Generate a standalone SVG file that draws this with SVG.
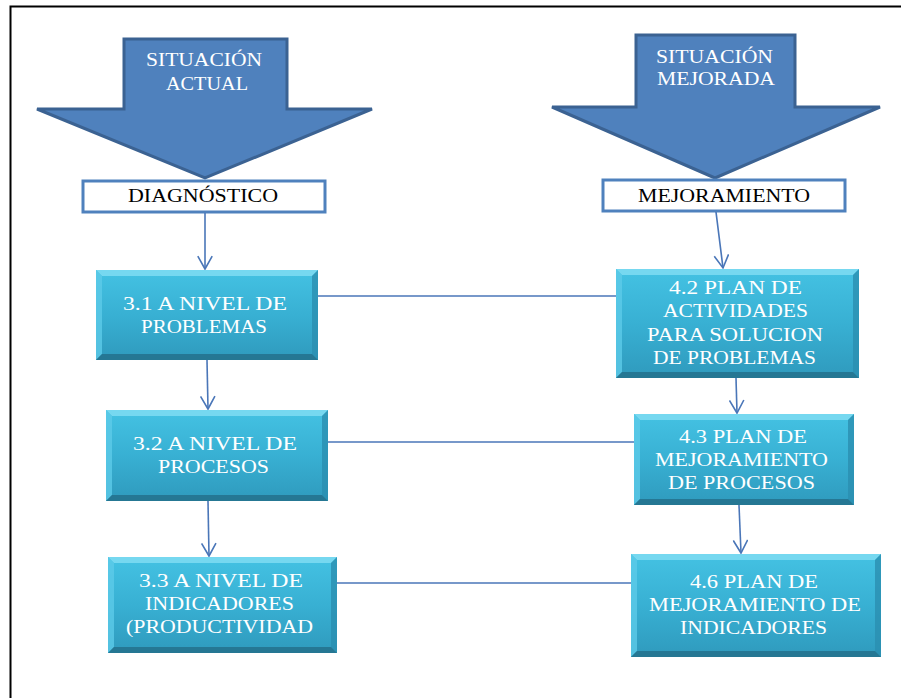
<svg xmlns="http://www.w3.org/2000/svg" width="901" height="698" viewBox="0 0 901 698">
  <defs>
    <linearGradient id="boxFill" x1="0" y1="0" x2="0" y2="1">
      <stop offset="0" stop-color="#44c2e3"/>
      <stop offset="0.5" stop-color="#38b0d3"/>
      <stop offset="1" stop-color="#2f9abd"/>
    </linearGradient>
    <marker id="open" viewBox="0 0 20 20" refX="18" refY="10" markerWidth="16" markerHeight="16" markerUnits="userSpaceOnUse" orient="auto">
      <path d="M2,1 L18,10 L2,19" fill="none" stroke="#4a76b8" stroke-width="2"/>
    </marker>
  </defs>
  <style>
    .frame { fill: none; stroke: #000; stroke-width: 2; }
    .bigArrow { fill: #4f81bd; stroke: #3b6292; stroke-width: 3; stroke-linejoin: miter; }
    .arrowText { font-size: 18px; fill: #ffffff; }
    .label { fill: #ffffff; stroke: #4f81bd; stroke-width: 3; }
    .labelText { font-size: 18px; fill: #000000; }
    .box { fill: url(#boxFill); }
    .bevelTop { fill: #7fdcf2; opacity: 0.85; }
    .bevelLeft { fill: #5ccbe9; opacity: 0.8; }
    .bevelRight { fill: #2a8fb0; opacity: 0.8; }
    .bevelBottom { fill: #23718c; opacity: 0.85; }
    .boxText { font-size: 19px; fill: #ffffff; }
    .conn { fill: none; stroke: #4a76b8; stroke-width: 1.6; }
  </style>

  <!-- page frame: top and left edges only -->
  <path class="frame" d="M10.5,698 V6.5 H901"/>

  <g font-family="'Liberation Serif', 'DejaVu Serif', 'Times New Roman', serif">
  <!-- block arrows -->
  <g id="situacion-actual">
    <path class="bigArrow" d="M124,39 H287 V109 H372 L205,178 L37,109 H124 Z"/>
    <text class="arrowText" x="146" y="66" textLength="116" lengthAdjust="spacingAndGlyphs">SITUACIÓN</text>
    <text class="arrowText" x="166" y="90" textLength="82" lengthAdjust="spacingAndGlyphs">ACTUAL</text>
  </g>
  <g id="situacion-mejorada">
    <path class="bigArrow" d="M636,35 H795 V107 H880 L715,178 L552,107 H636 Z"/>
    <text class="arrowText" x="656" y="63" textLength="117" lengthAdjust="spacingAndGlyphs">SITUACIÓN</text>
    <text class="arrowText" x="657" y="85" textLength="118" lengthAdjust="spacingAndGlyphs">MEJORADA</text>
  </g>

  <!-- heading labels -->
  <g id="diagnostico">
    <rect class="label" x="83" y="181" width="242" height="31"/>
    <text class="labelText" x="128" y="202" textLength="150" lengthAdjust="spacingAndGlyphs">DIAGNÓSTICO</text>
  </g>
  <g id="mejoramiento">
    <rect class="label" x="603" y="180" width="242" height="31"/>
    <text class="labelText" x="638" y="202" textLength="172" lengthAdjust="spacingAndGlyphs">MEJORAMIENTO</text>
  </g>

  <!-- connectors -->
  <g id="connectors">
    <line class="conn" x1="205" y1="213" x2="205" y2="269" marker-end="url(#open)"/>
    <line class="conn" x1="207" y1="360" x2="208" y2="409" marker-end="url(#open)"/>
    <line class="conn" x1="208" y1="501" x2="209" y2="556" marker-end="url(#open)"/>
    <line class="conn" x1="716" y1="212" x2="723" y2="268" marker-end="url(#open)"/>
    <line class="conn" x1="736" y1="378" x2="737" y2="413" marker-end="url(#open)"/>
    <line class="conn" x1="739" y1="505" x2="741" y2="553" marker-end="url(#open)"/>
    <line class="conn" x1="318" y1="296" x2="616" y2="296"/>
    <line class="conn" x1="328" y1="442" x2="634" y2="442"/>
    <line class="conn" x1="337" y1="583" x2="632" y2="583"/>
  </g>

  <!-- diagnosis column -->
  <g id="n31">
    <rect class="box" x="96" y="270" width="222" height="90"/>
    <polygon class="bevelTop" points="96,270 318,270 312,276 102,276"/>
    <polygon class="bevelLeft" points="96,270 102,276 102,354 96,360"/>
    <polygon class="bevelRight" points="318,270 318,360 312,354 312,276"/>
    <polygon class="bevelBottom" points="96,360 102,354 312,354 318,360"/>
    <text class="boxText" x="123" y="310" textLength="164" lengthAdjust="spacingAndGlyphs">3.1 A NIVEL DE</text>
    <text class="boxText" x="141" y="333" textLength="126" lengthAdjust="spacingAndGlyphs">PROBLEMAS</text>
  </g>
  <g id="n32">
    <rect class="box" x="106" y="410" width="222" height="91"/>
    <polygon class="bevelTop" points="106,410 328,410 322,416 112,416"/>
    <polygon class="bevelLeft" points="106,410 112,416 112,495 106,501"/>
    <polygon class="bevelRight" points="328,410 328,501 322,495 322,416"/>
    <polygon class="bevelBottom" points="106,501 112,495 322,495 328,501"/>
    <text class="boxText" x="133" y="450" textLength="164" lengthAdjust="spacingAndGlyphs">3.2 A NIVEL DE</text>
    <text class="boxText" x="158" y="473" textLength="111" lengthAdjust="spacingAndGlyphs">PROCESOS</text>
  </g>
  <g id="n33">
    <rect class="box" x="108" y="557" width="229" height="96"/>
    <polygon class="bevelTop" points="108,557 337,557 331,563 114,563"/>
    <polygon class="bevelLeft" points="108,557 114,563 114,647 108,653"/>
    <polygon class="bevelRight" points="337,557 337,653 331,647 331,563"/>
    <polygon class="bevelBottom" points="108,653 114,647 331,647 337,653"/>
    <text class="boxText" x="139" y="587" textLength="164" lengthAdjust="spacingAndGlyphs">3.3 A NIVEL DE</text>
    <text class="boxText" x="145" y="610" textLength="149" lengthAdjust="spacingAndGlyphs">INDICADORES</text>
    <text class="boxText" x="126" y="633" textLength="187" lengthAdjust="spacingAndGlyphs">(PRODUCTIVIDAD</text>
  </g>

  <!-- improvement column -->
  <g id="n42">
    <rect class="box" x="616" y="269" width="243" height="109"/>
    <polygon class="bevelTop" points="616,269 859,269 853,275 622,275"/>
    <polygon class="bevelLeft" points="616,269 622,275 622,372 616,378"/>
    <polygon class="bevelRight" points="859,269 859,378 853,372 853,275"/>
    <polygon class="bevelBottom" points="616,378 622,372 853,372 859,378"/>
    <text class="boxText" x="669" y="294" textLength="133" lengthAdjust="spacingAndGlyphs">4.2 PLAN DE</text>
    <text class="boxText" x="663" y="317" textLength="145" lengthAdjust="spacingAndGlyphs">ACTIVIDADES</text>
    <text class="boxText" x="647" y="341" textLength="176" lengthAdjust="spacingAndGlyphs">PARA SOLUCION</text>
    <text class="boxText" x="653" y="364" textLength="163" lengthAdjust="spacingAndGlyphs">DE PROBLEMAS</text>
  </g>
  <g id="n43">
    <rect class="box" x="634" y="414" width="220" height="91"/>
    <polygon class="bevelTop" points="634,414 854,414 848,420 640,420"/>
    <polygon class="bevelLeft" points="634,414 640,420 640,499 634,505"/>
    <polygon class="bevelRight" points="854,414 854,505 848,499 848,420"/>
    <polygon class="bevelBottom" points="634,505 640,499 848,499 854,505"/>
    <text class="boxText" x="679" y="443" textLength="128" lengthAdjust="spacingAndGlyphs">4.3 PLAN DE</text>
    <text class="boxText" x="655" y="466" textLength="173" lengthAdjust="spacingAndGlyphs">MEJORAMIENTO</text>
    <text class="boxText" x="668" y="489" textLength="147" lengthAdjust="spacingAndGlyphs">DE PROCESOS</text>
  </g>
  <g id="n46">
    <rect class="box" x="631" y="554" width="250" height="103"/>
    <polygon class="bevelTop" points="631,554 881,554 875,560 637,560"/>
    <polygon class="bevelLeft" points="631,554 637,560 637,651 631,657"/>
    <polygon class="bevelRight" points="881,554 881,657 875,651 875,560"/>
    <polygon class="bevelBottom" points="631,657 637,651 875,651 881,657"/>
    <text class="boxText" x="690" y="588" textLength="128" lengthAdjust="spacingAndGlyphs">4.6 PLAN DE</text>
    <text class="boxText" x="649" y="611" textLength="212" lengthAdjust="spacingAndGlyphs">MEJORAMIENTO DE</text>
    <text class="boxText" x="680" y="634" textLength="147" lengthAdjust="spacingAndGlyphs">INDICADORES</text>
  </g>
  </g>
</svg>
